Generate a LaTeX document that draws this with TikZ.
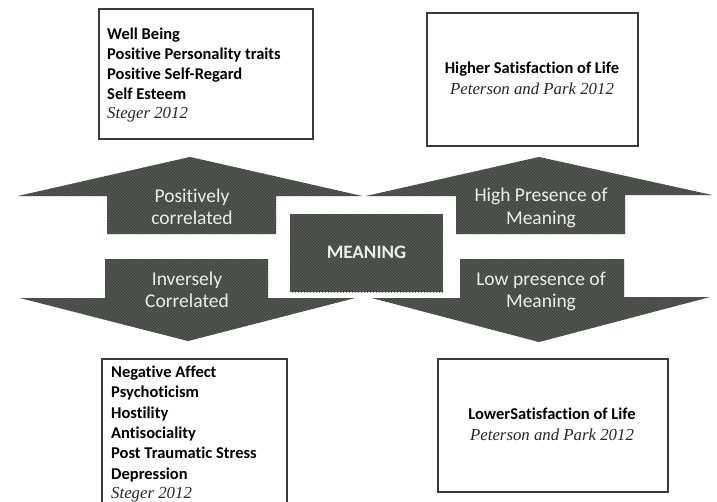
\documentclass[tikz,border=0pt]{standalone}
\usepackage{fontspec}
\setmainfont{Carlito}[RawFeature={-liga;-clig}]
\newfontfamily\citefont{Liberation Serif}
\usetikzlibrary{patterns}
\definecolor{arrowfill}{RGB}{66,70,64}
\definecolor{arrowline}{RGB}{96,100,94}
\definecolor{boxline}{RGB}{58,58,58}
\definecolor{lighttext}{RGB}{238,238,232}
\begin{document}
\begin{tikzpicture}[x=1pt,y=-1pt,
  shapefill/.style={fill=arrowfill, postaction={pattern=north west lines, pattern color=arrowline}},
  infobox/.style={draw=boxline, line width=1.1pt, fill=white, inner sep=0},
  arrowtext/.style={text=lighttext, font=\fontsize{19.5}{22}\selectfont, anchor=base, inner sep=0},
  boxtext/.style={font=\bfseries\fontsize{16.5}{20}\selectfont, anchor=base west, inner sep=0},
  boxtextc/.style={font=\bfseries\fontsize{16.5}{20}\selectfont, anchor=base, inner sep=0},
  cite/.style={font=\citefont\itshape\fontsize{16.8}{20}\selectfont, text=black!85, inner sep=0}
]
\useasboundingbox (0,0) rectangle (717,501);
\clip (0,0) rectangle (717,501);

% four block arrows around the centre
\path[shapefill] (190,157) -- (362,196) -- (276,196) -- (276,234) -- (107,234) -- (107,196) -- (18,196) -- cycle;
\path[shapefill] (539,157) -- (712,195) -- (625,195) -- (625,234) -- (456,234) -- (456,196) -- (366,196) -- cycle;
\path[shapefill] (105,259) -- (268,259) -- (268,298) -- (355,298) -- (188,341) -- (20,298) -- (105,298) -- cycle;
\path[shapefill] (460,259) -- (624,259) -- (624,297) -- (710,297) -- (539,342) -- (372,298) -- (460,298) -- cycle;

% centre block
\node[shapefill, minimum width=153pt, minimum height=78pt, inner sep=0] (meaning) at (366.5,253) {};
\node[text=lighttext, font=\bfseries\fontsize{19}{22}\selectfont, anchor=base, inner sep=0] (meaningtxt) at (366.5,258) {MEANING};

% arrow labels
\node[arrowtext] (ul1) at (192,202) {Positively};
\node[arrowtext] (ul2) at (192,224) {correlated};
\node[arrowtext] (ur1) at (541,201) {High Presence of};
\node[arrowtext] (ur2) at (541,224) {Meaning};
\node[arrowtext] (ll1) at (187,285) {Inversely};
\node[arrowtext] (ll2) at (187,307) {Correlated};
\node[arrowtext] (lr1) at (541,285) {Low presence of};
\node[arrowtext] (lr2) at (541,307) {Meaning};

% boxes
\node[infobox, minimum width=214pt, minimum height=130pt] (boxtl) at (206,74) {};
\node[infobox, minimum width=211pt, minimum height=133pt] (boxtr) at (532.5,79.5) {};
\node[infobox, minimum width=185pt, minimum height=161pt] (boxbl) at (194.5,439.5) {};
\node[infobox, minimum width=230pt, minimum height=133pt] (boxbr) at (553,425.5) {};

% top left box text
\node[boxtext] (tl1) at (107,39) {Well Being};
\node[boxtext] (tl2) at (107,59.5) {Positive Personality traits};
\node[boxtext] (tl3) at (107,79.5) {Positive Self-Regard};
\node[boxtext] (tl4) at (107,99.5) {Self Esteem};
\node[cite, anchor=base west] (tl5) at (107,118.5) {Steger 2012};

% top right box text
\node[boxtextc] (tr1) at (532,73) {Higher Satisfaction of Life};
\node[cite, anchor=base] (tr2) at (532,94) {Peterson and Park 2012};

% bottom left box text
\node[boxtext] (bl1) at (111,377) {Negative Affect};
\node[boxtext] (bl2) at (111,397.5) {Psychoticism};
\node[boxtext] (bl3) at (111,418) {Hostility};
\node[boxtext] (bl4) at (111,438) {Antisociality};
\node[boxtext] (bl5) at (111,458.5) {Post Traumatic Stress};
\node[boxtext] (bl6) at (111,479) {Depression};
\node[cite, anchor=base west] (bl7) at (111,498.5) {Steger 2012};

% bottom right box text
\node[boxtextc] (br1) at (552,419) {LowerSatisfaction of Life};
\node[cite, anchor=base] (br2) at (552,440) {Peterson and Park 2012};
\end{tikzpicture}
\end{document}
